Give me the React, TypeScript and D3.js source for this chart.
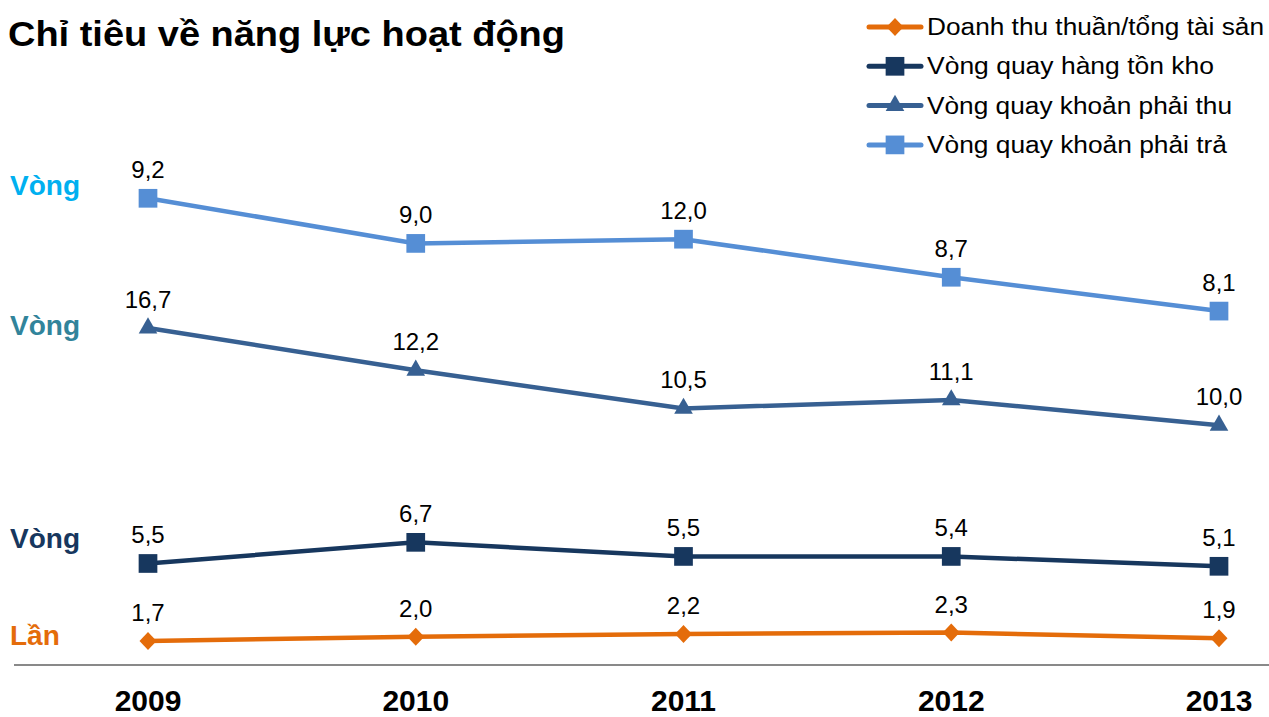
import { useEffect, useRef } from 'react'
import * as d3 from 'd3'

const YEARS = ['2009', '2010', '2011', '2012', '2013']
const REVENUE_TO_ASSETS = [1.7, 2.0, 2.2, 2.3, 1.9]
const INVENTORY_TURNOVER = [5.5, 6.7, 5.5, 5.4, 5.1]
const RECEIVABLES_TURNOVER = [16.7, 12.2, 10.5, 11.1, 10.0]
const PAYABLES_TURNOVER = [9.2, 9.0, 12.0, 8.7, 8.1]

const SERIES = [
  { key: 'rev', name: 'Doanh thu thuần/tổng tài sản', values: REVENUE_TO_ASSETS, color: '#E46C0A', marker: 'diamond', textLen: 337 },
  { key: 'inv', name: 'Vòng quay hàng tồn kho', values: INVENTORY_TURNOVER, color: '#17375E', marker: 'square', textLen: 287 },
  { key: 'rec', name: 'Vòng quay khoản phải thu', values: RECEIVABLES_TURNOVER, color: '#376092', marker: 'triangle', textLen: 305 },
  { key: 'pay', name: 'Vòng quay khoản phải trả', values: PAYABLES_TURNOVER, color: '#558ED5', marker: 'square', textLen: 300 },
]

// unit labels on the left, one per band
const UNIT_LABELS = [
  { text: 'Vòng', color: '#00B0F0', y: 195 },
  { text: 'Vòng', color: '#31849B', y: 335 },
  { text: 'Vòng', color: '#17375E', y: 548 },
  { text: 'Lần', color: '#E46C0A', y: 645 },
]

const FONT = '"Liberation Sans", Arial, sans-serif'

const markerPath = (type: string) => {
  if (type === 'diamond') return 'M0,-9L8.5,0L0,9L-8.5,0Z'
  if (type === 'triangle') return d3.symbol().type(d3.symbolTriangle).size(150)() as string
  return d3.symbol().type(d3.symbolSquare).size(350)() as string
}

export default function App() {
  const svgRef = useRef<SVGSVGElement>(null)

  useEffect(() => {
    const svg = d3.select(svgRef.current)
    svg.selectAll('*').remove()
    const width = 1269
    const height = 717

    const x = d3.scalePoint<string>().domain(YEARS).range([148, 1219])
    const y = d3.scaleLinear().domain([0, 35]).range([665, 665 - 35 * 14.1])

    // stacked line chart
    const rows = YEARS.map((yr, i) => {
      const r: Record<string, number | string> = { year: yr }
      SERIES.forEach(s => { r[s.key] = s.values[i] })
      return r
    })
    const stacked = d3.stack<Record<string, number | string>>().keys(SERIES.map(s => s.key))(rows as any)

    // title
    svg.append('text')
      .attr('x', 8).attr('y', 46)
      .attr('font-family', FONT).attr('font-weight', 'bold').attr('font-size', 35)
      .attr('textLength', 557).attr('lengthAdjust', 'spacingAndGlyphs')
      .attr('fill', '#000')
      .text('Chỉ tiêu về năng lực hoạt động')

    // baseline axis
    svg.append('line')
      .attr('x1', 14).attr('x2', width)
      .attr('y1', y(0)).attr('y2', y(0))
      .attr('stroke', '#898989').attr('stroke-width', 2)

    // year labels
    svg.append('g').selectAll('text').data(YEARS).join('text')
      .attr('x', d => x(d)!).attr('y', 711)
      .attr('text-anchor', 'middle')
      .attr('font-family', FONT).attr('font-weight', 'bold').attr('font-size', 30)
      .text(d => d)

    // unit labels
    svg.append('g').selectAll('text').data(UNIT_LABELS).join('text')
      .attr('x', 10).attr('y', d => d.y)
      .attr('font-family', FONT).attr('font-weight', 'bold').attr('font-size', 28)
      .attr('fill', d => d.color)
      .text(d => d.text)

    const line = d3.line<[number, number]>()
      .x((_, i) => x(YEARS[i])!)
      .y(d => y(d[1]))

    SERIES.forEach((s, si) => {
      const layer = stacked[si] as unknown as [number, number][]
      const g = svg.append('g')
      g.append('path')
        .attr('d', line(layer))
        .attr('fill', 'none')
        .attr('stroke', s.color)
        .attr('stroke-width', 4.5)
      g.selectAll('path.m').data(layer).join('path')
        .attr('class', 'm')
        .attr('d', markerPath(s.marker))
        .attr('transform', (d, i) => `translate(${x(YEARS[i])},${y(d[1])})`)
        .attr('fill', s.color)
      g.selectAll('text').data(layer).join('text')
        .attr('x', (_, i) => x(YEARS[i])!)
        .attr('y', d => y(d[1]) - 20)
        .attr('text-anchor', 'middle')
        .attr('font-family', FONT).attr('font-size', 24)
        .attr('fill', '#000')
        .text((_, i) => d3.format('.1f')(s.values[i]).replace('.', ','))
    })

    // legend
    const legend = svg.append('g')
    SERIES.forEach((s, i) => {
      const ly = 27 + i * 39.3
      const row = legend.append('g').attr('transform', `translate(0,${ly})`)
      row.append('line')
        .attr('x1', 869).attr('x2', 921).attr('y1', 0).attr('y2', 0)
        .attr('stroke', s.color).attr('stroke-width', 5).attr('stroke-linecap', 'round')
      row.append('path')
        .attr('d', markerPath(s.marker))
        .attr('transform', 'translate(895,0)')
        .attr('fill', s.color)
      row.append('text')
        .attr('x', 927).attr('y', 8)
        .attr('font-family', FONT).attr('font-size', 23)
        .attr('textLength', s.textLen).attr('lengthAdjust', 'spacingAndGlyphs')
        .attr('fill', '#000')
        .text(s.name)
    })

    svg.attr('width', width).attr('height', height)
  }, [])

  return (
    <svg ref={svgRef} width={1269} height={717}
      style={{ position: 'absolute', left: 0, top: 0, background: '#fff', display: 'block' }} />
  )
}
